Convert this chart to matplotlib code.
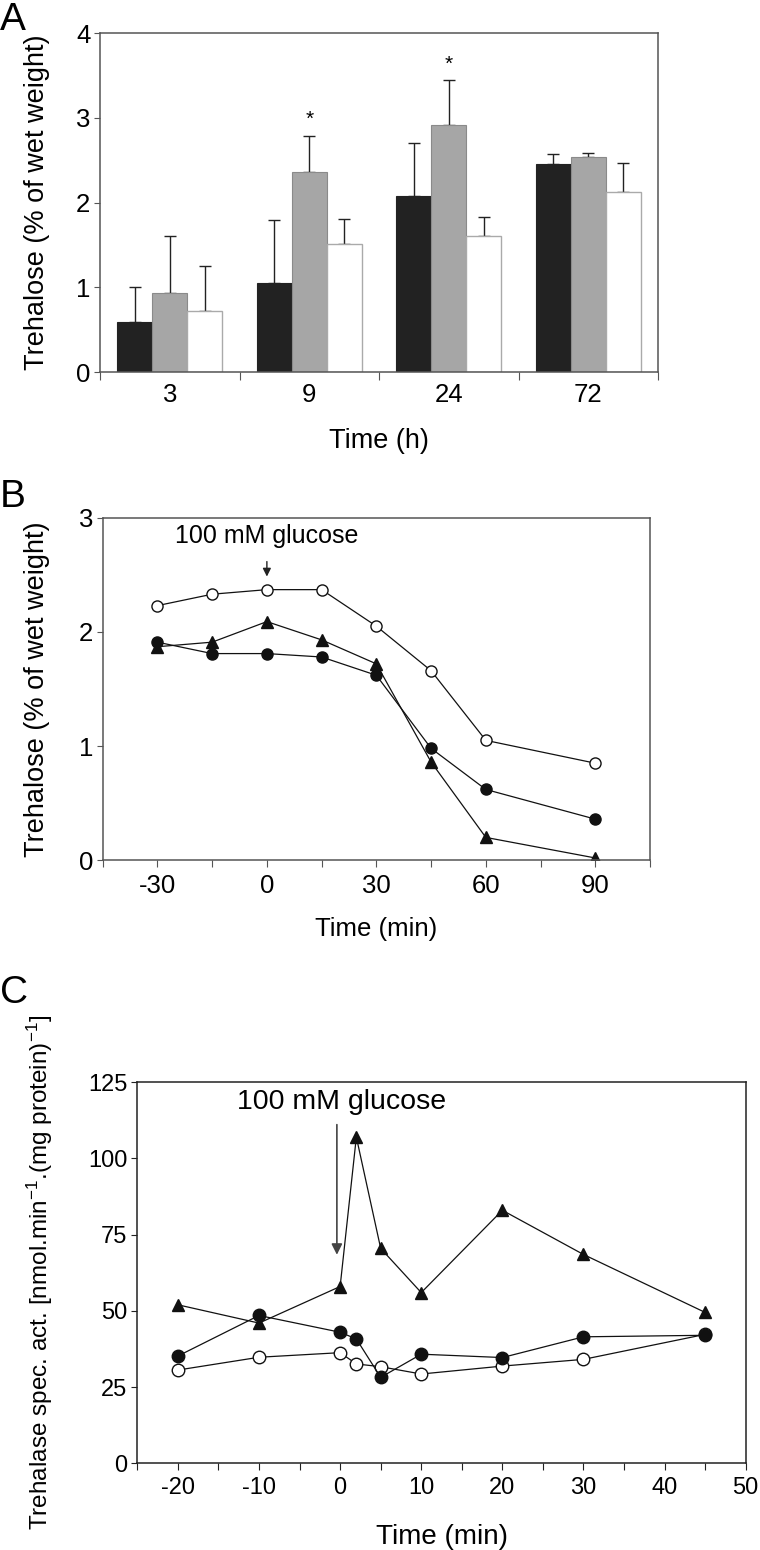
import matplotlib
matplotlib.use('Agg')
import numpy as np
import matplotlib.pyplot as plt

plt.rcParams['font.family'] = ['Liberation Sans', 'DejaVu Sans']
plt.rcParams['mathtext.fontset'] = 'custom'
plt.rcParams['mathtext.rm'] = 'Liberation Sans'
plt.rcParams['mathtext.it'] = 'Liberation Sans:italic'

# ---- panel A data (bars with upper error bars)
a_times = ['3', '9', '24', '72']
a_black = [0.59, 1.05, 2.08, 2.45]
a_black_err = [0.41, 0.74, 0.62, 0.12]
a_gray = [0.93, 2.36, 2.91, 2.54]
a_gray_err = [0.68, 0.43, 0.53, 0.05]
a_white = [0.72, 1.51, 1.60, 2.12]
a_white_err = [0.53, 0.29, 0.23, 0.35]
a_star = [False, True, True, False]  # marks on grey bars

# ---- panel B data
b_time = [-30, -15, 0, 15, 30, 45, 60, 90]
b_open = [2.23, 2.33, 2.37, 2.37, 2.05, 1.66, 1.05, 0.85]
b_filled = [1.91, 1.81, 1.81, 1.78, 1.62, 0.98, 0.62, 0.36]
b_tri = [1.87, 1.91, 2.09, 1.93, 1.72, 0.86, 0.20, 0.02]

# ---- panel C data
c_time = [-20, -10, 0, 2, 5, 10, 20, 30, 45]
c_tri = [52, 46, 58, 107, 70.5, 56, 83, 68.5, 49.5]
c_filled = [35.2, 48.5, 43, 40.8, 28.2, 35.8, 34.7, 41.5, 42]
c_open = [30.6, 34.8, 36.3, 32.6, 31.7, 29.3, 31.9, 34.1, 42.3]

spine_col = '#555555'

fig = plt.figure(figsize=(7.6, 15.5), dpi=100)

# ================= A
axA = fig.add_axes([0.1316, 0.76, 0.7342, 0.2187])
x = np.arange(len(a_times))
w = 0.25
axA.bar(x - w, a_black, w, color='#222222', edgecolor='#222222', linewidth=0.8, zorder=2)
axA.bar(x, a_gray, w, color='#a6a6a6', edgecolor='#8a8a8a', linewidth=0.8, zorder=2)
axA.bar(x + w, a_white, w, color='white', edgecolor='#aaaaaa', linewidth=1.0, zorder=2)
for off, vals, errs in [(-w, a_black, a_black_err), (0, a_gray, a_gray_err), (w, a_white, a_white_err)]:
    axA.errorbar(x + off, vals, yerr=[np.zeros(len(vals)), errs], fmt='none',
                 ecolor='#222222', elinewidth=1.0, capsize=4, capthick=1.0, zorder=1)
for i, s in enumerate(a_star):
    if s:
        axA.text(x[i], a_gray[i] + a_gray_err[i] + 0.08, '*', ha='center', va='bottom', fontsize=15)
axA.set_xlim(-0.5, 3.5)
axA.set_ylim(0, 4)
axA.set_yticks([0, 1, 2, 3, 4])
axA.set_xticks(np.arange(-0.5, 4, 1))
axA.set_xticklabels([])
axA.set_xticks(x, minor=True)
axA.set_xticklabels(a_times, minor=True)
axA.tick_params(axis='x', which='minor', length=0, labelsize=18.5, pad=8)
axA.tick_params(axis='x', which='major', length=6, color=spine_col)
axA.tick_params(axis='y', labelsize=18.5, length=4, color=spine_col, pad=3)
axA.set_ylabel('Trehalose (% of wet weight)', fontsize=19.5)
axA.yaxis.set_label_coords(-0.09, 0.5)
axA.set_xlabel('Time (h)', fontsize=19.5)
axA.xaxis.set_label_coords(0.5, -0.165)
for sp in axA.spines.values():
    sp.set_color(spine_col)
    sp.set_linewidth(1.1)
fig.text(0.0, 0.9985, 'A', fontsize=28, ha='left', va='top')

# ================= B
axB = fig.add_axes([0.1351, 0.445, 0.7202, 0.221])
mk = dict(color='#111111', linewidth=0.9, markersize=8)
axB.plot(b_time, b_open, marker='o', markerfacecolor='white', markeredgecolor='#111111', markeredgewidth=1.0, **mk)
axB.plot(b_time, b_filled, marker='o', markerfacecolor='#111111', markeredgecolor='#111111', **mk)
axB.plot(b_time, b_tri, marker='^', markerfacecolor='#111111', markeredgecolor='#111111', **mk)
axB.annotate('', xy=(0, 2.46), xytext=(0, 2.64),
             arrowprops=dict(arrowstyle='-|>', color='#222222', lw=1.0, mutation_scale=12))
axB.text(0, 2.84, '100 mM glucose', ha='center', va='center', fontsize=18)
axB.set_xlim(-45, 105)
axB.set_ylim(0, 3)
axB.set_xticks(np.arange(-45, 106, 15))
axB.set_xticklabels(['' if t % 30 else str(t) for t in np.arange(-45, 106, 15)])
axB.set_yticks([0, 1, 2, 3])
axB.tick_params(axis='x', labelsize=18.5, length=5, color=spine_col, pad=5)
axB.tick_params(axis='y', labelsize=18.5, length=4, color=spine_col, pad=3)
axB.set_ylabel('Trehalose (% of wet weight)', fontsize=19.5)
axB.yaxis.set_label_coords(-0.096, 0.5)
axB.set_xlabel('Time (min)', fontsize=18.5)
axB.xaxis.set_label_coords(0.5, -0.165)
for sp in axB.spines.values():
    sp.set_color(spine_col)
    sp.set_linewidth(1.1)
fig.text(0.0, 0.691, 'B', fontsize=28, ha='left', va='top')

# ================= C
axC = fig.add_axes([0.1807, 0.0559, 0.8005, 0.2459])
mk = dict(color='#111111', linewidth=0.9, markersize=9)
axC.plot(c_time, c_open, marker='o', markerfacecolor='white', markeredgecolor='#111111', markeredgewidth=1.0, **mk)
axC.plot(c_time, c_filled, marker='o', markerfacecolor='#111111', markeredgecolor='#111111', **mk)
axC.plot(c_time, c_tri, marker='^', markerfacecolor='#111111', markeredgecolor='#111111', **mk)
axC.annotate('', xy=(-0.4, 67.5), xytext=(-0.4, 112),
             arrowprops=dict(arrowstyle='-|>', color='#444444', lw=1.2, mutation_scale=16))
axC.text(0.2, 118.4, '100 mM glucose', ha='center', va='center', fontsize=20.5)
axC.set_xlim(-25, 50)
axC.set_ylim(0, 125)
axC.set_xticks(np.arange(-25, 51, 5))
axC.set_xticklabels(['' if t % 10 else str(t) for t in np.arange(-25, 51, 5)])
axC.set_yticks([0, 25, 50, 75, 100, 125])
axC.tick_params(axis='x', labelsize=17, length=5, color='#222222', pad=5)
axC.tick_params(axis='y', labelsize=17, length=4, color='#222222', pad=3)
axC.set_ylabel(r'Trehalase spec. act. [nmol.min$^{-1}$.(mg protein)$^{-1}$]', fontsize=17.5)
axC.yaxis.set_label_coords(-0.135, 0.5)
axC.set_xlabel('Time (min)', fontsize=20)
axC.xaxis.set_label_coords(0.5, -0.16)
for sp in axC.spines.values():
    sp.set_color('#222222')
    sp.set_linewidth(1.1)
fig.text(0.0, 0.371, 'C', fontsize=28, ha='left', va='top')

fig.savefig('out.png', dpi=100, facecolor='white')
plt.close('all')
